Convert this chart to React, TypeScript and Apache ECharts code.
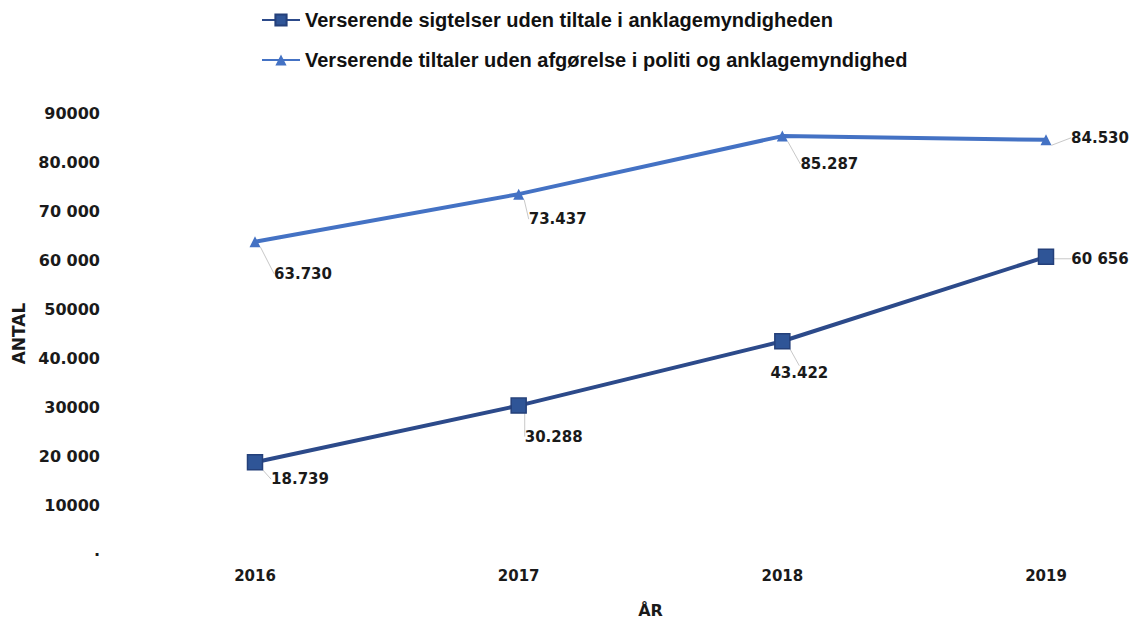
import React, { useEffect, useRef } from "react";
import * as echarts from "echarts";

const years = ["2016", "2017", "2018", "2019"];
const sigtelser = [18739, 30288, 43422, 60656];
const tiltaler = [63730, 73437, 85287, 84530];
const sigtelserLabels = ["18.739", "30.288", "43.422", "60 656"];
const tiltalerLabels = ["63.730", "73.437", "85.287", "84.530"];
const yTickLabels: Record<number, string> = {
  0: "·",
  10000: "10000",
  20000: "20 000",
  30000: "30000",
  40000: "40.000",
  50000: "50000",
  60000: "60 000",
  70000: "70 000",
  80000: "80.000",
  90000: "90000",
};
const seriesNames = [
  "Verserende sigtelser uden tiltale i anklagemyndigheden",
  "Verserende tiltaler uden afgørelse i politi og anklagemyndighed",
];

const sigtelserOffsets = [[45, 17], [35, 31], [17, 32], [54, 2]];
const tiltalerOffsets = [[48, 32], [39, 25], [47, 28], [54, -2]];

const FONT = "'DejaVu Sans', sans-serif";

export default function App() {
  const ref = useRef<HTMLDivElement>(null);
  useEffect(() => {
    const chart = echarts.init(ref.current!, null, { renderer: "svg" });
    const labelStyle = {
      show: true,
      position: "inside" as const,
      fontFamily: FONT,
      fontWeight: "bold" as const,
      fontSize: 15,
      color: "#1a1a1a",
    };
    chart.setOption({
      animation: false,
      backgroundColor: "#ffffff",
      legend: {
        orient: "vertical",
        left: 256,
        top: 4,
        itemWidth: 38,
        itemHeight: 14,
        itemGap: 18,
        textStyle: {
          fontFamily: "'Liberation Sans', sans-serif",
          fontWeight: "bold",
          fontSize: 20,
          lineHeight: 22,
          color: "#111111",
        },
        data: seriesNames,
      },
      grid: { left: 255, right: 89, top: 113, bottom: 66 },
      xAxis: {
        type: "category",
        data: years,
        boundaryGap: false,
        axisLine: { show: false },
        axisTick: { show: false },
        axisLabel: {
          margin: 14,
          fontFamily: FONT,
          fontWeight: "bold",
          fontSize: 15,
          color: "#1a1a1a",
        },
        name: "ÅR",
        nameLocation: "middle",
        nameGap: 48,
        nameTextStyle: {
          fontFamily: FONT,
          fontWeight: "bold",
          fontSize: 16,
          color: "#1a1a1a",
        },
      },
      yAxis: {
        type: "value",
        min: 0,
        max: 90000,
        interval: 10000,
        splitLine: { show: false },
        axisLine: { show: false },
        axisTick: { show: false },
        axisLabel: {
          margin: 155,
          fontFamily: FONT,
          fontWeight: "bold",
          fontSize: 16,
          color: "#1a1a1a",
          formatter: (v: number) => yTickLabels[v] ?? String(v),
        },
        name: "ANTAL",
        nameLocation: "middle",
        nameGap: 228,
        nameRotate: 90,
        nameTextStyle: {
          fontFamily: FONT,
          fontWeight: "bold",
          fontSize: 17,
          color: "#1a1a1a",
        },
      },
      series: [
        {
          name: seriesNames[0],
          type: "line",
          data: sigtelser,
          symbol: "rect",
          symbolSize: 15,
          lineStyle: { color: "#2c4a8a", width: 4 },
          itemStyle: { color: "#2f5597", borderColor: "#24407a", borderWidth: 1.5 },
          label: {
            ...labelStyle,
            formatter: (p: any) => sigtelserLabels[p.dataIndex],
          },
          labelLayout: (p: any) => ({
            dx: sigtelserOffsets[p.dataIndex][0],
            dy: sigtelserOffsets[p.dataIndex][1],
          }),
          labelLine: { show: true, lineStyle: { color: "#c8c8c8", width: 1 } },
          z: 3,
        },
        {
          name: seriesNames[1],
          type: "line",
          data: tiltaler,
          symbol: "triangle",
          symbolSize: 11,
          lineStyle: { color: "#4472c4", width: 4 },
          itemStyle: { color: "#4472c4" },
          label: {
            ...labelStyle,
            formatter: (p: any) => tiltalerLabels[p.dataIndex],
          },
          labelLayout: (p: any) => ({
            dx: tiltalerOffsets[p.dataIndex][0],
            dy: tiltalerOffsets[p.dataIndex][1],
          }),
          labelLine: { show: true, lineStyle: { color: "#c8c8c8", width: 1 } },
          z: 2,
        },
      ],
    });
    return () => chart.dispose();
  }, []);
  return (
    <div
      ref={ref}
      style={{ position: "absolute", left: 0, top: 0, width: 1135, height: 623 }}
    />
  );
}
